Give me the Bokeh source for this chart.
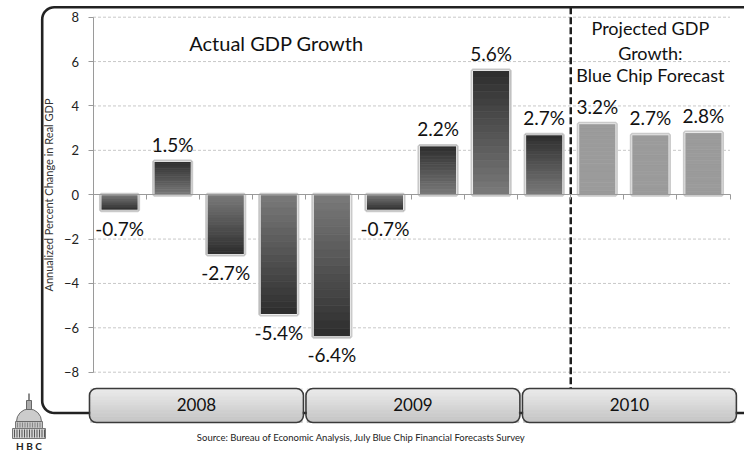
import numpy as np
from bokeh.plotting import figure
from bokeh.models import Range1d, LinearAxis, FixedTicker, ColumnDataSource
from bokeh.core.properties import value
from bokeh.embed import file_html
from bokeh.resources import INLINE

# ---------------- data ----------------
quarters = ["2008 Q1", "2008 Q2", "2008 Q3", "2008 Q4",
            "2009 Q1", "2009 Q2", "2009 Q3", "2009 Q4",
            "2010 Q1", "2010 Q2", "2010 Q3", "2010 Q4"]
growth = [-0.7, 1.5, -2.7, -5.4, -6.4, -0.7, 2.2, 5.6, 2.7, 3.2, 2.7, 2.8]
n_actual = 9
years = ["2008", "2009", "2010"]
quarters_per_year = 4
y_ticks = [-8, -6, -4, -2, 0, 2, 4, 6, 8]
title_actual = "Actual GDP Growth"
title_proj = ["Projected GDP", "Growth:", "Blue Chip Forecast"]
y_label = "Annualized Percent Change in Real GDP"
source_text = "Source:  Bureau of Economic Analysis, July Blue Chip Financial Forecasts Survey"

# ---------------- layout helpers ----------------
W, H = 744, 451
n = len(growth)
PL, PR = 92.5, 729.5          # plot area left/right in page px
Y8, YM8 = 16.7, 371.7         # page px of y=8 and y=-8
ppx = (PR - PL) / n
y0 = (Y8 + YM8) / 2
ppy = (YM8 - Y8) / 16.0


def X(px):
    return -0.5 + (px - PL) / ppx


def Y(py):
    return (y0 - py) / ppy


FONT = value("Lato")
TXT = dict(text_font=FONT, text_align="center", text_baseline="middle",
           text_color="#111111")

p = figure(width=W, height=H, x_range=Range1d(X(0), X(W)),
           y_range=Range1d(Y(H), Y(0)), output_backend="svg",
           toolbar_location=None, tools="", x_axis_location=None,
           y_axis_location=None, min_border=0)
p.outline_line_color = None
p.background_fill_color = "white"
for g in p.grid:
    g.visible = False

# ---------------- outer rounded border ----------------
r = 12.0
bl, bt, bb, bR = 41.7, 6.8, 412.5, 760.0
pts = [(bR, bt), (bl + r, bt)]
for a in np.linspace(np.pi / 2, np.pi, 10):
    pts.append((bl + r + r * np.cos(a), bt + r - r * np.sin(a)))
pts.append((bl, bb - r))
for a in np.linspace(np.pi, 1.5 * np.pi, 10):
    pts.append((bl + r + r * np.cos(a), bb - r - r * np.sin(a)))
pts.append((bR, bb))
p.line([X(a) for a, b in pts], [Y(b) for a, b in pts], line_color="#222222",
       line_width=2.6)

# ---------------- grid ----------------
gy = [t for t in y_ticks if t != 0]
p.segment(x0=[-0.5] * len(gy), y0=gy, x1=[n - 0.5] * len(gy), y1=gy,
          line_color="#c8c8c8", line_width=1, line_dash="3 2")

# ---------------- dashed divider ----------------
xd = n_actual - 0.5
p.segment(x0=[xd], y0=[Y(bt)], x1=[xd], y1=[Y(388)], line_color="#1e1e1e",
          line_width=2.5, line_dash="7 3")

# ---------------- bars ----------------
bw = 0.70
idx = list(range(n))
glow = ColumnDataSource(dict(left=[i - bw / 2 for i in idx],
                             right=[i + bw / 2 for i in idx],
                             bottom=[min(0, v) for v in growth],
                             top=[max(0, v) for v in growth]))
p.quad(left="left", right="right", bottom="bottom", top="top", source=glow,
       fill_color=None, line_color="#cacaca", line_width=4)


def mix(c1, c2, t):
    a = np.array([int(c1[k:k + 2], 16) for k in (1, 3, 5)], float)
    b = np.array([int(c2[k:k + 2], 16) for k in (1, 3, 5)], float)
    c = a + (b - a) * t
    return "#%02x%02x%02x" % tuple(int(round(v)) for v in c)


NS = 18
sl, sr, sb, st, sc = [], [], [], [], []
for i, v in enumerate(growth):
    for k in range(NS):
        a0, a1 = v * k / NS, v * (k + 1) / NS
        sl.append(i - bw / 2)
        sr.append(i + bw / 2)
        sb.append(min(a0, a1))
        st.append(max(a0, a1))
        if i < n_actual:
            sc.append(mix("#7a7a7a", "#2d2d2d", (k + 0.5) / NS))
        else:
            sc.append("#9b9b9b")
p.quad(left=sl, right=sr, bottom=sb, top=st, fill_color=sc, line_color=sc,
       line_width=0.7)
p.quad(left="left", right="right", bottom="bottom", top="top", source=glow,
       fill_color=None, line_color="#ededed", line_width=1)

# ---------------- value labels ----------------
lab = ColumnDataSource(dict(x=idx, y=growth,
                            t=["%.1f%%" % v for v in growth],
                            yo=[-17 if v >= 0 else 18 for v in growth]))
p.text(x="x", y="y", text="t", y_offset="yo", source=lab,
       text_font_size="19px", **TXT)

# ---------------- annotations ----------------
p.text(x=[X(276)], y=[Y(42.5)], text=[title_actual], text_font_size="20px",
       **TXT)
proj_x = float(np.mean(range(n_actual, n)))
for line, py in zip(title_proj, [27.5, 52.5, 74.5]):
    p.text(x=[proj_x], y=[Y(py)], text=[line], text_font_size="18px", **TXT)

# ---------------- axes ----------------
yaxis = LinearAxis(fixed_location=-0.5, bounds=(y_ticks[0], y_ticks[-1]),
                   ticker=FixedTicker(ticks=y_ticks), axis_label=y_label)
yaxis.axis_line_color = "#9a9a9a"
yaxis.major_tick_line_color = "#9a9a9a"
yaxis.major_tick_in = 0
yaxis.major_tick_out = 5
yaxis.minor_tick_line_color = None
yaxis.major_label_standoff = 9
yaxis.major_label_text_font = "Lato"
yaxis.major_label_text_font_size = "13px"
yaxis.major_label_text_color = "#222222"
yaxis.axis_label_text_font = "Lato"
yaxis.axis_label_text_font_size = "11px"
yaxis.axis_label_text_font_style = "normal"
yaxis.axis_label_text_color = "#333333"
yaxis.axis_label_standoff = 6
p.add_layout(yaxis, "left")

xaxis = LinearAxis(fixed_location=0, bounds=(-0.5, n - 0.5),
                   ticker=FixedTicker(ticks=[i - 0.5 for i in range(n + 1)]))
xaxis.axis_line_color = "#9a9a9a"
xaxis.major_tick_line_color = "#9a9a9a"
xaxis.major_tick_in = 0
xaxis.major_tick_out = 5
xaxis.minor_tick_line_color = None
xaxis.major_label_text_color = None
xaxis.major_label_text_font_size = "1px"
p.add_layout(xaxis, "below")

# ---------------- year bands ----------------
bt2, bb2 = 388.0, 422.0
band_step, band_w, band_start = 4.078, 4.03, -0.566
NB = 12
ql, qr, qb, qt, qc = [], [], [], [], []
yl, yr_ = [], []
for k, yname in enumerate(years):
    left = band_start + k * band_step
    right = left + band_w
    yl.append(left)
    yr_.append(right)
    for j in range(NB):
        ql.append(left + 0.02)
        qr.append(right - 0.02)
        qt.append(Y(bt2 + (bb2 - bt2) * j / NB))
        qb.append(Y(bt2 + (bb2 - bt2) * (j + 1) / NB))
        qc.append(mix("#ececec", "#c4c4c4", (j + 0.5) / NB))
p.quad(left=ql, right=qr, bottom=qb, top=qt, fill_color=qc, line_color=qc,
       line_width=0.7)
p.quad(left=yl, right=yr_, bottom=[Y(bb2)] * 3, top=[Y(bt2)] * 3,
       fill_color=None, line_color="#3a3a3a", line_width=1.6, border_radius=7)
p.text(x=[(a + b) / 2 for a, b in zip(yl, yr_)], y=[Y(404)] * 3, text=years,
       text_font_size="17px", **TXT)

# ---------------- source ----------------
p.text(x=[X(362)], y=[Y(436.5)], text=[source_text], text_font=FONT,
       text_font_size="9.5px", text_align="center", text_baseline="middle",
       text_color="#222222")

# ---------------- HBC logo (decoration) ----------------
cx = 28.5
p.quad(left=[X(12)], right=[X(45)], bottom=[Y(438)], top=[Y(428)],
       fill_color="#d4d4d4", line_color="#777777", line_width=1)
colx = [X(14 + 2.5 * k) for k in range(13)]
p.segment(x0=colx, y0=[Y(429)] * 13, x1=colx, y1=[Y(437)] * 13,
          line_color="#555555", line_width=1)
p.quad(left=[X(15)], right=[X(42)], bottom=[Y(428)], top=[Y(421)],
       fill_color="#c4c4c4", line_color="#777777", line_width=1)
colx2 = [X(17 + 2.5 * k) for k in range(10)]
p.segment(x0=colx2, y0=[Y(422)] * 10, x1=colx2, y1=[Y(427)] * 10,
          line_color="#777777", line_width=0.8)
p.wedge(x=[X(cx)], y=[Y(421)], radius=12.5, radius_units="screen",
        start_angle=0, end_angle=np.pi, fill_color="#cccccc",
        line_color="#6a6a6a", line_width=1)
p.quad(left=[X(26)], right=[X(31)], bottom=[Y(409)], top=[Y(400)],
       fill_color="#aaaaaa", line_color="#666666", line_width=1)
p.segment(x0=[X(cx)], y0=[Y(400)], x1=[X(cx)], y1=[Y(393)],
          line_color="#666666", line_width=1.5)
p.text(x=[X(cx)], y=[Y(445)], text=["H B C"], text_font=FONT,
       text_font_size="10px", text_font_style="bold", text_align="center",
       text_baseline="middle", text_color="#222222")

open("out.html", "w").write(file_html(p, INLINE))
